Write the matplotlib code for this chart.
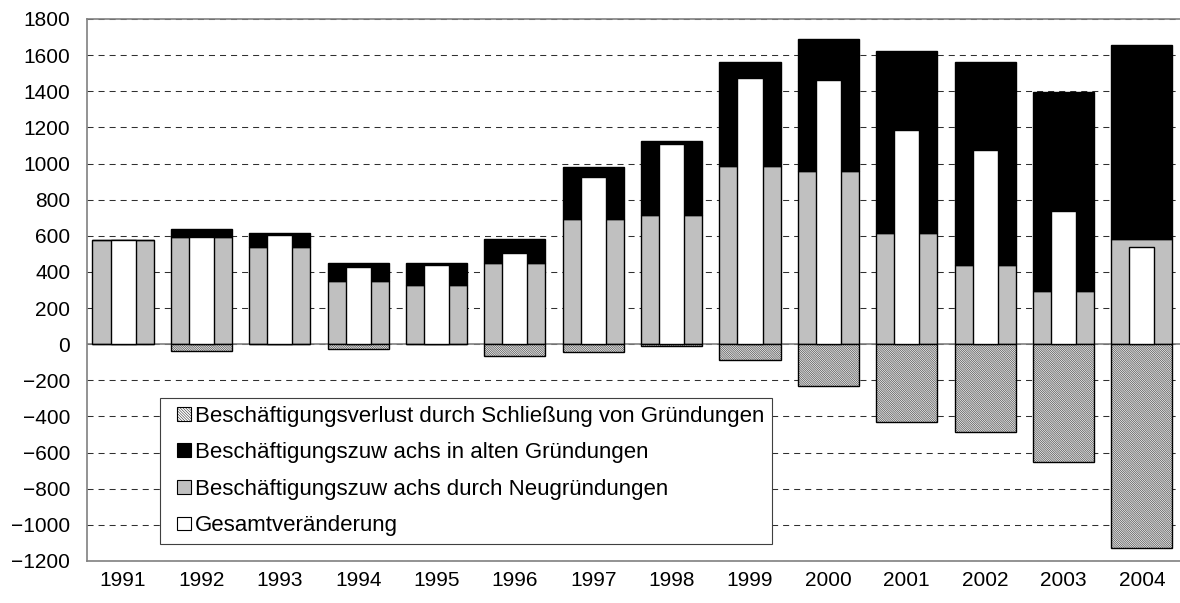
import matplotlib
matplotlib.use('Agg')
import matplotlib.pyplot as plt
import numpy as np
from matplotlib.patches import Patch, Rectangle
from matplotlib.legend_handler import HandlerPatch

years = ['1991', '1992', '1993', '1994', '1995', '1996', '1997',
         '1998', '1999', '2000', '2001', '2002', '2003', '2004']
neugruendungen = [578, 596, 537, 350, 328, 448, 694, 715, 987, 956, 615, 440, 297, 583]
alte_gruendungen = [0, 39, 78, 98, 120, 132, 286, 407, 573, 734, 1009, 1120, 1097, 1074]
verlust = [0, -35, 0, -24, 0, -67, -43, -11, -89, -234, -431, -486, -650, -1127]
gesamt = [578, 596, 607, 428, 441, 504, 926, 1106, 1472, 1461, 1185, 1075, 736, 536]

labels = ['Beschäftigungsverlust durch Schließung von Gründungen',
          'Beschäftigungszuw achs in alten Gründungen',
          'Beschäftigungszuw achs durch Neugründungen',
          'Gesamtveränderung']

plt.rcParams['font.family'] = ['Liberation Sans', 'DejaVu Sans']
plt.rcParams['hatch.linewidth'] = 0.32

W, H = 1180, 603
fig = plt.figure(figsize=(W / 100, H / 100), dpi=100)
ax = fig.add_axes([87 / W, 1 - 561 / H, (1181 - 87) / W, (561 - 19) / H])

x = np.arange(len(years))
wide, narrow = 0.78, 0.32
hatch = '\\' * 18
ax.bar(x, neugruendungen, wide, color='#c0c0c0', edgecolor='black', linewidth=1.0, zorder=3)
ax.bar(x, alte_gruendungen, wide, bottom=neugruendungen, color='black', edgecolor='black',
       linewidth=1.0, zorder=3)
ax.bar(x, verlust, wide, color='white', edgecolor='black', hatch=hatch, linewidth=1.0, zorder=3)
ax.bar(x, gesamt, narrow, color='white', edgecolor='black', linewidth=1.0, zorder=4)

ax.set_xlim(-0.46, len(years) - 0.5)
ax.set_ylim(-1200, 1800)
ax.set_yticks(np.arange(-1200, 1801, 200))
ax.set_xticks(x)
ax.set_xticklabels(years)
ax.yaxis.grid(True, linestyle=(0, (5.8, 4.8)), color='#303030', linewidth=0.75)
ax.set_axisbelow(True)
ax.axhline(0, color='#808080', linewidth=1.2, zorder=2.5)

ax.tick_params(axis='y', length=0, pad=12, labelsize=15)
ax.tick_params(axis='x', length=0, pad=7, labelsize=15)
for s in ['left', 'top', 'bottom']:
    ax.spines[s].set_color('#808080')
    ax.spines[s].set_linewidth(1.2)
ax.spines['right'].set_visible(False)


def square(legend, orig_handle, xdescent, ydescent, width, height, fontsize):
    return Rectangle((width - height - xdescent, -ydescent), height, height)


handles = [Patch(facecolor='white', edgecolor='black', hatch='\\' * 12, linewidth=0.8),
           Patch(facecolor='black', edgecolor='black', linewidth=0.8),
           Patch(facecolor='#c0c0c0', edgecolor='black', linewidth=0.8),
           Patch(facecolor='white', edgecolor='black', linewidth=0.8)]
leg = ax.legend(handles, labels, loc='upper left',
                bbox_to_anchor=((160 - 87) / 1094, (561 - 398) / 542),
                bbox_transform=ax.transAxes, frameon=True, fancybox=False,
                edgecolor='#404040', framealpha=1, fontsize=16,
                handlelength=1.05, handleheight=0.57, handletextpad=0.2,
                labelspacing=0.7, borderpad=0.34, borderaxespad=0,
                handler_map={Patch: HandlerPatch(patch_func=square)})
leg.get_frame().set_linewidth(0.8)

fig.savefig('out.png', dpi=100)
